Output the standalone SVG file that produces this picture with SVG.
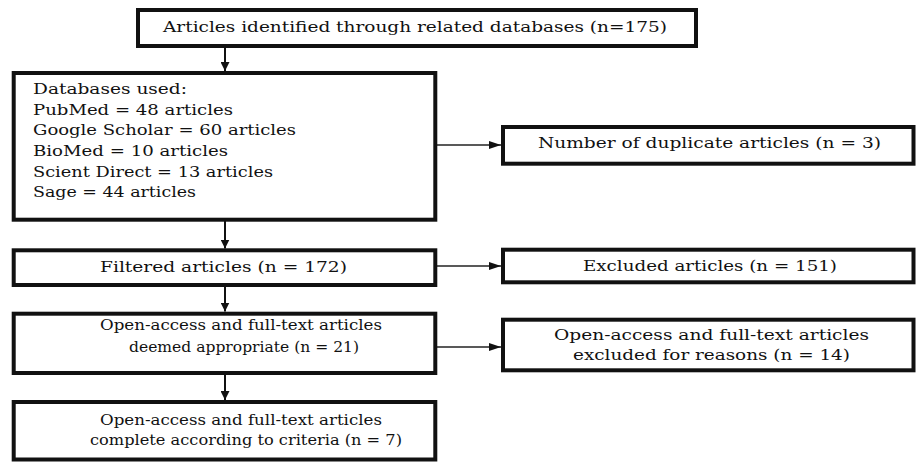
<svg xmlns="http://www.w3.org/2000/svg" width="916" height="462" viewBox="0 0 916 462">
<defs>
<style>
.box{fill:#fff;stroke:#111;stroke-width:4}
.t{font-family:"DejaVu Serif","Liberation Serif",serif;font-size:14px;fill:#111}
.v{stroke:#111;stroke-width:2;fill:none}
.h{stroke:#222;stroke-width:1.3;fill:none}
</style>
<marker id="av" viewBox="0 0 10 10" refX="10" refY="5" markerWidth="9" markerHeight="9" markerUnits="userSpaceOnUse" orient="auto"><path d="M0,0 L10,5 L0,10 Z" fill="#111"/></marker>
<marker id="ah" viewBox="0 0 12 8" refX="12" refY="4" markerWidth="12" markerHeight="8" markerUnits="userSpaceOnUse" orient="auto"><path d="M0,0 L12,4 L0,8 Z" fill="#111"/></marker>
</defs>
<rect width="916" height="462" fill="#fff"/>
<g id="connectors">
<line class="v" x1="225" y1="48" x2="225" y2="71" marker-end="url(#av)"/>
<line class="v" x1="225" y1="221" x2="225" y2="248.5" marker-end="url(#av)"/>
<line class="v" x1="225" y1="287" x2="225" y2="311.5" marker-end="url(#av)"/>
<line class="v" x1="225" y1="375" x2="225" y2="400" marker-end="url(#av)"/>
<line class="h" x1="437" y1="145" x2="501" y2="145" marker-end="url(#ah)"/>
<line class="h" x1="437" y1="266" x2="501" y2="266" marker-end="url(#ah)"/>
<line class="h" x1="437" y1="347" x2="501" y2="347" marker-end="url(#ah)"/>
</g>
<g id="identified">
<rect class="box" x="138" y="10" width="558" height="36"/>
<text class="t" x="163" y="31.5" textLength="504" lengthAdjust="spacingAndGlyphs">Articles identified through related databases (n=175)</text>
</g>
<g id="databases">
<rect class="box" x="13.7" y="73" width="421.6" height="146.7"/>
<text class="t" x="33" y="94" textLength="154" lengthAdjust="spacingAndGlyphs">Databases used:</text>
<text class="t" x="33" y="114.5" textLength="200" lengthAdjust="spacingAndGlyphs">PubMed = 48 articles</text>
<text class="t" x="33" y="135" textLength="263" lengthAdjust="spacingAndGlyphs">Google Scholar = 60 articles</text>
<text class="t" x="33" y="156" textLength="195" lengthAdjust="spacingAndGlyphs">BioMed = 10 articles</text>
<text class="t" x="33" y="176.5" textLength="240" lengthAdjust="spacingAndGlyphs">Scient Direct = 13 articles</text>
<text class="t" x="33" y="197" textLength="163" lengthAdjust="spacingAndGlyphs">Sage = 44 articles</text>
</g>
<g id="duplicates">
<rect class="box" x="503" y="127" width="410.5" height="36.7"/>
<text class="t" x="538" y="148" textLength="343" lengthAdjust="spacingAndGlyphs">Number of duplicate articles (n = 3)</text>
</g>
<g id="filtered">
<rect class="box" x="13.7" y="250.3" width="421.6" height="34.7"/>
<text class="t" x="100" y="271.5" textLength="247" lengthAdjust="spacingAndGlyphs">Filtered articles (n = 172)</text>
</g>
<g id="excluded">
<rect class="box" x="503" y="249.7" width="410.5" height="32.6"/>
<text class="t" x="583" y="271" textLength="254" lengthAdjust="spacingAndGlyphs">Excluded articles (n = 151)</text>
</g>
<g id="appropriate">
<rect class="box" x="13.7" y="313.7" width="421.6" height="59.3"/>
<text class="t" x="100" y="329.5" textLength="282" lengthAdjust="spacingAndGlyphs">Open-access and full-text articles</text>
<text class="t" x="129" y="352" textLength="230" lengthAdjust="spacingAndGlyphs">deemed appropriate (n = 21)</text>
</g>
<g id="excluded-reasons">
<rect class="box" x="503" y="319.7" width="410.5" height="50.6"/>
<text class="t" x="554" y="340" textLength="315" lengthAdjust="spacingAndGlyphs">Open-access and full-text articles</text>
<text class="t" x="573" y="360" textLength="277" lengthAdjust="spacingAndGlyphs">excluded for reasons (n = 14)</text>
</g>
<g id="complete">
<rect class="box" x="13.7" y="402" width="421.6" height="57.5"/>
<text class="t" x="100" y="425" textLength="282" lengthAdjust="spacingAndGlyphs">Open-access and full-text articles</text>
<text class="t" x="90" y="445" textLength="312" lengthAdjust="spacingAndGlyphs">complete according to criteria (n = 7)</text>
</g>
</svg>
